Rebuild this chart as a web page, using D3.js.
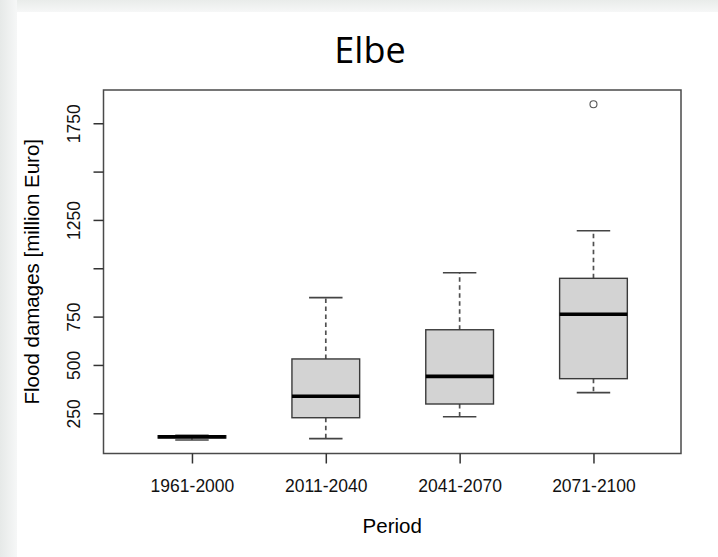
<!DOCTYPE html>
<html>
<head>
<meta charset="utf-8">
<script src="https://cdn.jsdelivr.net/npm/d3@7"></script>
<style>
  html, body { margin: 0; padding: 0; background: #fff; }
  svg { display: block; }
</style>
</head>
<body>
<svg id="chart" width="718" height="557"></svg>
<script>
// ---- data ----
const periods = ["1961-2000", "2011-2040", "2041-2070", "2071-2100"];
const whiskerLow  = [112, 119, 232, 357];
const q1          = [122, 227, 298, 429];
const median      = [129, 338, 441, 762];
const q3          = [134, 531, 682, 948];
const whiskerHigh = [136, 848, 977, 1194];
const outliers    = [[], [], [], [1848]];
const yTicks      = [250, 500, 750, 1000, 1250, 1500, 1750];
const yTickLabels = ["250", "500", "750", "", "1250", "", "1750"];
const title = "Elbe";
const xTitle = "Period";
const yTitle = "Flood damages [million Euro]";

// ---- layout ----
const svg = d3.select("#chart");
const W = 718, H = 557;
const plot = { left: 103.5, right: 681, top: 90, bottom: 453.5 };

// slide background shadow strips
const defs = svg.append("defs");
const gl = defs.append("linearGradient").attr("id", "gl").attr("x1", 0).attr("x2", 1).attr("y1", 0).attr("y2", 0);
gl.append("stop").attr("offset", "0%").attr("stop-color", "#e6e9e8");
gl.append("stop").attr("offset", "100%").attr("stop-color", "#f6f7f7");
const gt = defs.append("linearGradient").attr("id", "gt").attr("x1", 0).attr("x2", 0).attr("y1", 0).attr("y2", 1);
gt.append("stop").attr("offset", "0%").attr("stop-color", "#e9ecea");
gt.append("stop").attr("offset", "100%").attr("stop-color", "#f6f7f7");
svg.append("rect").attr("x", 0).attr("y", 0).attr("width", W).attr("height", 12).attr("fill", "url(#gt)");
svg.append("rect").attr("x", 0).attr("y", 0).attr("width", 17).attr("height", H).attr("fill", "url(#gl)");

// scales (index-based x like R boxplot)
const x = d3.scaleLinear().domain([0.339, 4.654]).range([plot.left, plot.right]);
const y = d3.scaleLinear().domain([42, 1922]).range([plot.bottom, plot.top]);
const unit = x(2) - x(1);
const boxW = 0.506 * unit;
const capW = 0.25 * unit;

// title
svg.append("text")
  .attr("x", 370).attr("y", 63)
  .attr("text-anchor", "middle")
  .attr("font-family", "Open Sans, sans-serif")
  .attr("font-size", 36)
  .attr("fill", "#000")
  .text(title);

// boxes
const g = svg.append("g");
periods.forEach((p, i) => {
  const cx = x(i + 1);
  // whiskers (dashed)
  g.append("line").attr("x1", cx).attr("x2", cx).attr("y1", y(q3[i])).attr("y2", y(whiskerHigh[i]))
    .attr("stroke", "#505050").attr("stroke-width", 1.7).attr("stroke-dasharray", "4.5,3.5");
  g.append("line").attr("x1", cx).attr("x2", cx).attr("y1", y(q1[i])).attr("y2", y(whiskerLow[i]))
    .attr("stroke", "#505050").attr("stroke-width", 1.7).attr("stroke-dasharray", "4.5,3.5");
  // caps
  [whiskerHigh[i], whiskerLow[i]].forEach(v => {
    g.append("line").attr("x1", cx - capW / 2).attr("x2", cx + capW / 2).attr("y1", y(v)).attr("y2", y(v))
      .attr("stroke", "#444").attr("stroke-width", 1.6);
  });
  // box
  g.append("rect")
    .attr("x", cx - boxW / 2).attr("width", boxW)
    .attr("y", y(q3[i])).attr("height", Math.max(0.5, y(q1[i]) - y(q3[i])))
    .attr("fill", "#d3d3d3").attr("stroke", "#3a3a3a").attr("stroke-width", 1.4);
  // median
  g.append("line").attr("x1", cx - boxW / 2).attr("x2", cx + boxW / 2).attr("y1", y(median[i])).attr("y2", y(median[i]))
    .attr("stroke", "#000").attr("stroke-width", 3.6);
  // outliers
  outliers[i].forEach(v => {
    g.append("circle").attr("cx", cx).attr("cy", y(v)).attr("r", 3.5)
      .attr("fill", "none").attr("stroke", "#555").attr("stroke-width", 1.1);
  });
});

// plot frame
svg.append("rect")
  .attr("x", plot.left).attr("y", plot.top)
  .attr("width", plot.right - plot.left).attr("height", plot.bottom - plot.top)
  .attr("fill", "none").attr("stroke", "#4a4a4a").attr("stroke-width", 1.5);

// y axis
const yAxis = svg.append("g")
  .attr("transform", `translate(${plot.left},0)`)
  .call(d3.axisLeft(y).tickValues(yTicks).tickFormat((d, i) => yTickLabels[i]).tickSize(10));
yAxis.select(".domain").remove();
yAxis.selectAll(".tick line").attr("stroke", "#333").attr("stroke-width", 1.5);
yAxis.selectAll(".tick text")
  .attr("x", null).attr("dy", null)
  .attr("transform", "translate(-23.5,0) rotate(-90)")
  .attr("text-anchor", "middle")
  .attr("font-family", "Liberation Sans, Arial, sans-serif")
  .attr("font-size", 17.5).attr("fill", "#111");

// x axis
const xAxis = svg.append("g")
  .attr("transform", `translate(0,${plot.bottom})`)
  .call(d3.axisBottom(x).tickValues([1, 2, 3, 4]).tickFormat((d, i) => periods[i]).tickSize(10));
xAxis.select(".domain").remove();
xAxis.selectAll(".tick line").attr("stroke", "#333").attr("stroke-width", 1.5);
xAxis.selectAll(".tick text")
  .attr("y", 38.5).attr("dy", null)
  .attr("font-family", "Liberation Sans, Arial, sans-serif")
  .attr("font-size", 17.5).attr("fill", "#111");

// axis titles
svg.append("text")
  .attr("x", (plot.left + plot.right) / 2).attr("y", 533)
  .attr("text-anchor", "middle")
  .attr("font-family", "Liberation Sans, Arial, sans-serif")
  .attr("font-size", 20.5).attr("fill", "#000")
  .text(xTitle);
svg.append("text")
  .attr("transform", `translate(38.5,${(plot.top + plot.bottom) / 2}) rotate(-90)`)
  .attr("text-anchor", "middle")
  .attr("font-family", "Liberation Sans, Arial, sans-serif")
  .attr("font-size", 20.5).attr("fill", "#000")
  .text(yTitle);
</script>
</body>
</html>
